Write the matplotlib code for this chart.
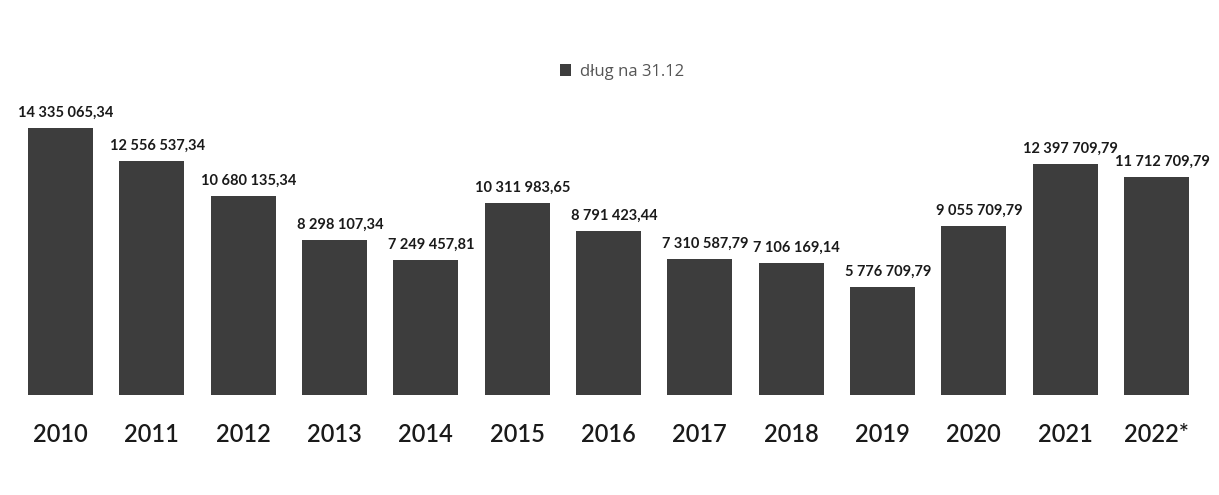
import numpy as np
import matplotlib.pyplot as plt

years = ['2010', '2011', '2012', '2013', '2014', '2015', '2016',
         '2017', '2018', '2019', '2020', '2021', '2022*']
debt = [14335065.34, 12556537.34, 10680135.34, 8298107.34, 7249457.81,
        10311983.65, 8791423.44, 7310587.79, 7106169.14, 5776709.79,
        9055709.79, 12397709.79, 11712709.79]
series_name = 'dług na 31.12'


def fmt(v):
    s = '{:,.2f}'.format(v)
    return s.replace(',', ' ').replace('.', ',')


fig = plt.figure(figsize=(12.19, 4.95), dpi=100)
# baseline at ~395px from top, first bar center at ~60px, spacing ~91px
ax = fig.add_axes([0, 100 / 495, 1, 395 / 495])

x = np.arange(len(years))
bars = ax.bar(x, debt, width=0.71, color='#3d3d3d', label=series_name)

for xi, v in zip(x, debt):
    ax.annotate(fmt(v), (xi, v), xytext=(4, 6), textcoords='offset points',
                ha='center', va='bottom', fontsize=10.5, fontweight='bold',
                family='Lato', color='#1a1a1a')

ax.set_xlim(-60.5 / 91.33, (1219 - 60.5) / 91.33)
ax.set_ylim(0, 14335065.34 * 395 / 267)
ax.set_xticks(x)
ax.set_xticklabels(years, fontsize=17, family='Lato', fontweight='semibold',
                   color='#1a1a1a')
ax.tick_params(axis='x', length=0, pad=20)
ax.set_yticks([])
for s in ax.spines.values():
    s.set_visible(False)

fig.legend(handles=[bars], labels=[series_name], loc='center',
           bbox_to_anchor=(0.51, 1 - 72 / 495), frameon=False,
           prop={'family': 'Open Sans', 'size': 12}, labelcolor='#555555',
           handlelength=0.7, handleheight=0.7, handletextpad=0.5)

fig.savefig('out.png', dpi=100)
